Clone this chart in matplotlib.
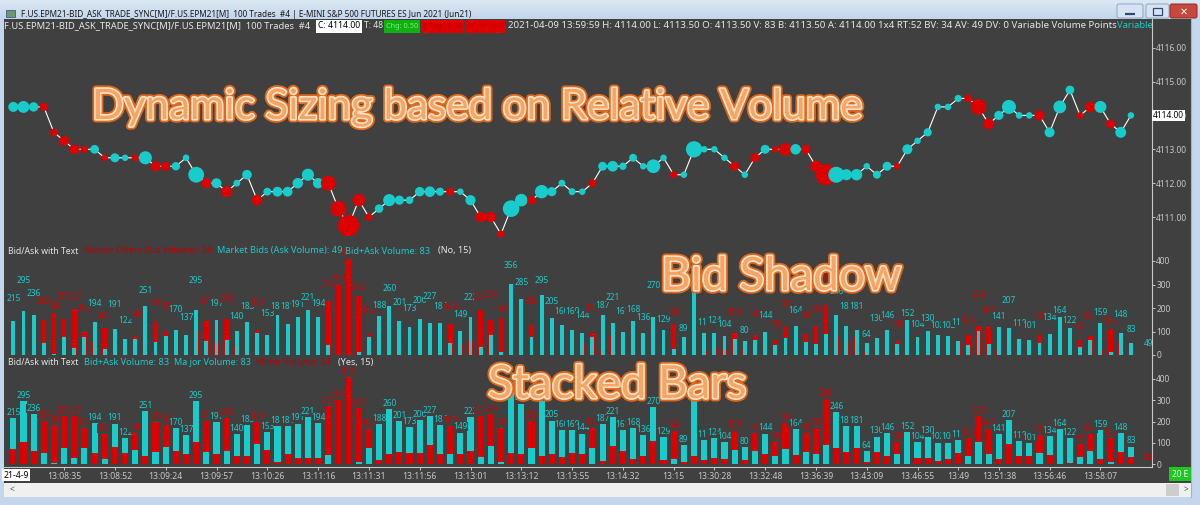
import numpy as np
import pandas as pd
import matplotlib
matplotlib.use("Agg")
import matplotlib.pyplot as plt
import matplotlib.patheffects as pe
from matplotlib.patches import Rectangle, FancyBboxPatch
from matplotlib.transforms import blended_transform_factory

W, H, DPI = 1200, 505, 100

# ---- data -------------------------------------------------------------
price = [
    4114.25, 4114.25, 4114.25, 4114.25, 4113.50, 4113.25, 4113.00, 4113.00, 4113.00, 4112.75,
    4112.75, 4112.75, 4112.75, 4112.75, 4112.50, 4112.50, 4112.50, 4112.75, 4112.25, 4112.00,
    4112.00, 4111.75, 4112.00, 4112.25, 4111.50, 4111.75, 4111.75, 4111.75, 4112.00, 4112.25,
    4112.00, 4112.00, 4111.25, 4110.75, 4111.50, 4111.00, 4111.25, 4111.50, 4111.50, 4111.50,
    4111.75, 4111.75, 4111.75, 4111.75, 4111.75, 4111.50, 4111.00, 4111.00, 4110.50, 4111.25,
    4111.50, 4111.50, 4111.75, 4111.75, 4112.00, 4111.75, 4111.75, 4112.00, 4112.50, 4112.50,
    4112.50, 4112.75, 4112.50, 4112.50, 4112.75, 4112.25, 4112.25, 4113.00, 4113.00, 4113.00,
    4112.75, 4112.50, 4112.25, 4112.75, 4113.00, 4113.00, 4113.00, 4113.00, 4113.00, 4112.50,
    4112.25, 4112.25, 4112.25, 4112.25, 4112.50, 4112.25, 4112.50, 4112.50, 4113.00, 4113.25,
    4113.50, 4114.25, 4114.25, 4114.50, 4114.50, 4114.25, 4113.75, 4114.00, 4114.25, 4114.00,
    4114.00, 4114.00, 4113.50, 4114.25, 4114.75, 4114.00, 4114.25, 4114.25, 4113.75, 4113.50,
    4114.00,
]

bid_volume = [
    72, 106, 64, 151, 179, 152, 196, 97, 55, 116,
    81, 52, 82, 41, 141, 103, 62, 50, 103, 144,
    50, 154, 39, 41, 106, 66, 11, 47, 28, 28,
    31, 231, 300, 409, 251, 88, 22, 50, 58, 53,
    53, 89, 48, 130, 47, 61, 193, 148, 158, 52,
    47, 128, 41, 47, 33, 52, 50, 94, 16, 86,
    62, 25, 41, 108, 22, 131, 12, 39, 19, 31,
    23, 92, 20, 83, 47, 65, 120, 42, 89, 122,
    214, 75, 56, 75, 12, 59, 41, 59, 3, 28,
    28, 16, 23, 55, 84, 125, 118, 23, 94, 41,
    39, 86, 44, 3, 5, 62, 79, 23, 110, 56,
    34,
]

ask_volume = [
    143, 189, 172, 52, 5, 75, 31, 75, 139, 25,
    110, 70, 66, 210, 56, 80, 108, 87, 192, 59,
    147, 62, 101, 142, 94, 87, 170, 134, 163, 193,
    163, 44, 2, 2, 11, 78, 166, 210, 143, 120,
    153, 138, 136, 50, 102, 161, 34, 86, 11, 304,
    238, 75, 254, 158, 127, 108, 94, 78, 171, 135,
    99, 143, 95, 162, 107, 25, 77, 263, 94, 93,
    81, 66, 60, 64, 97, 41, 72, 122, 56, 47,
    91, 171, 125, 106, 52, 71, 105, 47, 149, 76,
    102, 86, 79, 59, 41, 103, 48, 118, 113, 69,
    62, 52, 90, 161, 117, 33, 62, 136, 12, 92,
    49,
]

time_tick_bars = [5, 10, 15, 20, 25, 30, 35, 40, 45, 50, 55, 60, 65, 69, 74, 79,
                  84, 89, 93, 97, 102, 107]
time_tick_labels = ["13:08:35", "13:08:52", "13:09:24", "13:09:57", "13:10:26",
                    "13:11:16", "13:11:31", "13:11:56", "13:13:01", "13:13:12",
                    "13:13:55", "13:14:32", "13:15", "13:30:28", "13:32:48",
                    "13:36:39", "13:43:09", "13:46:55", "13:49", "13:51:38",
                    "13:56:46", "13:58:07"]
date_label = "21-4-9"
price_ticks = [4111, 4112, 4113, 4114, 4115, 4116]
volume_ticks = [0, 100, 200, 300, 400]
last_price = 4114.00

# ---- style ------------------------------------------------------------
BG = "#404040"
CYAN = "#19CCCC"
RED = "#DD0000"
AXIS = "#C8C8C8"
FRAME = "#C3D6EC"
TXT = "#E6E6E6"
UIFONT = ["Noto Sans", "DejaVu Sans"]

bid = np.array(bid_volume)
ask = np.array(ask_volume)
total = bid + ask
ask_major = ask >= bid
major_col = np.where(ask_major, CYAN, RED)
minor_col = np.where(ask_major, RED, CYAN)
minor = np.minimum(bid, ask)
idx = np.arange(len(price))

# bar pitch in pixels and first bar centre
X0, DX = 13.3, 10.16

fig = plt.figure(figsize=(W / DPI, H / DPI), dpi=DPI)
fig.patch.set_facecolor(FRAME)
renderer = fig.canvas.get_renderer()


def px_box(x0, y0, x1, y1):
    return [x0 / W, 1 - y1 / H, (x1 - x0) / W, (y1 - y0) / H]


def fit_text(ax, x, y, s, width, **kw):
    t = ax.text(x, y, s, fontsize=10, **kw)
    bb = t.get_window_extent(renderer)
    t.set_fontsize(10 * width / bb.width)
    return t


# background layer -------------------------------------------------------
bg = fig.add_axes([0, 0, 1, 1])
bg.set_xlim(0, W)
bg.set_ylim(H, 0)
bg.axis("off")
bg.set_zorder(0)
bg.add_patch(Rectangle((4, 19), 1187, 464, fc=BG, ec="none"))

# chart panels -----------------------------------------------------------
xlim = ((4 - X0) / DX, (1152 - X0) / DX)


def style_panel(ax):
    ax.set_facecolor(BG)
    ax.set_xlim(*xlim)
    for side in ("top", "left", "bottom"):
        ax.spines[side].set_visible(False)
    ax.spines["right"].set_color(AXIS)
    ax.spines["right"].set_linewidth(0.8)
    ax.yaxis.tick_right()
    ax.tick_params(axis="y", colors=AXIS, labelcolor=AXIS, labelsize=6,
                   length=2.5, width=0.7, pad=0.5)
    ax.set_xticks([])
    for lab in ax.get_yticklabels():
        lab.set_fontfamily(UIFONT)


# price panel
axp = fig.add_axes(px_box(4, 33, 1152, 243))
axp.set_zorder(1)
style_panel(axp)
p_scale = 33.9
axp.set_ylim(4115 - (243 - 81.5) / p_scale, 4115 + (81.5 - 33) / p_scale)
axp.set_yticks(price_ticks)
axp.set_yticklabels([f"{v:.2f}" for v in price_ticks], fontfamily=UIFONT)
axp.plot(idx, price, color="white", lw=0.8, zorder=2)
rel = pd.Series(total).rolling(20, min_periods=1).mean().to_numpy()
rel = total / rel
diam = np.maximum(6.5, 12 * rel - 2)
axp.scatter(idx, price, s=(diam * 72 / DPI) ** 2, c=major_col, edgecolors="none", zorder=3)
tr = blended_transform_factory(axp.transAxes, axp.transData)
axp.text(1.001, last_price, f"{last_price:.2f}", transform=tr, ha="left", va="center",
         fontsize=6, color="black", fontfamily=UIFONT, zorder=5,
         bbox=dict(boxstyle="square,pad=0.15", fc="white", ec="none"))


def bar_labels(ax):
    for i in idx:
        ax.annotate(str(total[i]), (i, total[i]), xytext=(0, 0.8), textcoords="offset points",
                    ha="center", va="bottom", fontsize=6, color=major_col[i],
                    fontfamily=UIFONT, zorder=4,
                    bbox=dict(boxstyle="square,pad=0.0", fc=BG, ec="none"))


# bid shadow panel
axs = fig.add_axes(px_box(4, 243, 1152, 357))
axs.set_zorder(1)
style_panel(axs)
s_scale = 0.235
axs.set_ylim((355 - 357) / s_scale, (355 - 243) / s_scale)
axs.set_yticks(volume_ticks)
axs.bar(idx, bid, width=0.46, color=RED, zorder=2)
axs.bar(idx, ask, width=0.38, color=CYAN, zorder=3)
bar_labels(axs)
axs.text(111.3, ask[-1], str(ask[-1]), ha="left", va="center", fontsize=6,
         color=CYAN, fontfamily=UIFONT)

# stacked panel
axk = fig.add_axes(px_box(4, 357, 1152, 467))
axk.set_zorder(1)
style_panel(axk)
k_scale = 0.2133
axk.set_ylim((464.3 - 467) / k_scale, (464.3 - 357) / k_scale)
axk.set_yticks(volume_ticks)
axk.bar(idx, minor, width=0.6, color=minor_col, zorder=2)
axk.bar(idx, total - minor, bottom=minor, width=0.6, color=major_col, zorder=2)
bar_labels(axk)
axk.text(111.2, bid[-1], str(bid[-1]), ha="left", va="center", fontsize=6,
         color=RED, fontfamily=UIFONT)
axk.spines["bottom"].set_visible(True)
axk.spines["bottom"].set_color(AXIS)
axk.spines["bottom"].set_linewidth(0.8)
axk.set_xticks(time_tick_bars)
axk.set_xticklabels(time_tick_labels, fontfamily=UIFONT)
axk.tick_params(axis="x", colors=AXIS, labelcolor=AXIS, labelsize=6.2, length=2,
                width=0.7, pad=1.5)

# overlay layer: window chrome, headers, captions ------------------------
ov = fig.add_axes([0, 0, 1, 1])
ov.set_xlim(0, W)
ov.set_ylim(H, 0)
ov.axis("off")
ov.set_zorder(3)

# date box on the time axis
ov.text(16, 475, date_label, ha="center", va="center", fontsize=6.2, color="black",
        fontfamily=UIFONT, bbox=dict(boxstyle="square,pad=0.2", fc="white", ec="none"))
# bars-back box bottom right
ov.add_patch(Rectangle((1169, 467), 22, 14, fc="#1EC81E", ec="none"))
ov.text(1180, 474.5, "20 E", ha="center", va="center", fontsize=6, color="white",
        fontfamily=UIFONT)

# title bar gradient
grad = np.linspace(0, 1, 20)[:, None]
ov.imshow(grad, extent=(0, W, 19, 0), aspect="auto", zorder=0,
          cmap=matplotlib.colors.LinearSegmentedColormap.from_list("tb", ["#DCE7F4", "#C3D6EC"]))
ov.set_xlim(0, W)
ov.set_ylim(H, 0)
# frame borders
ov.add_patch(Rectangle((0, 19), 4, H - 19, fc=FRAME, ec="none"))
ov.add_patch(Rectangle((1191, 19), 9, H - 19, fc=FRAME, ec="none", zorder=2))
ov.add_patch(Rectangle((0, 497), W, 8, fc=FRAME, ec="none"))
ov.plot([1191, 1191], [19, 497], color="#9DB3CE", lw=0.8, zorder=2.1)
# scrollbar
ov.add_patch(Rectangle((4, 483), 1187, 14, fc="#F0F0F0", ec="none"))
ov.add_patch(Rectangle((1166, 484), 13, 12, fc="#CDCDCD", ec="none"))
ov.text(12, 490, "<", ha="center", va="center", fontsize=6, color="#505050", fontfamily=UIFONT)
ov.text(1186, 490, ">", ha="center", va="center", fontsize=6, color="#505050",
        fontfamily=UIFONT, zorder=3)

# window icon and caption
ov.add_patch(Rectangle((6, 10), 9, 7, fc="#6A9A6A", ec="#3C5C8C", lw=0.6))
fit_text(ov, 21, 14.5, "F.US.EPM21-BID_ASK_TRADE_SYNC[M]/F.US.EPM21[M]  100 Trades  #4 | "
         "E-MINI S&P 500 FUTURES ES Jun 2021 (Jun21)", 454, va="center", ha="left",
         color="#1A1A1A", fontfamily=UIFONT)
# window buttons
for x0, x1, fc, ec in [(1117, 1143, "#D6E3F2", "#8FA6C4"), (1146, 1169, "#D6E3F2", "#8FA6C4"),
                       (1170, 1197, "#C9483E", "#8B2A23")]:
    ov.add_patch(FancyBboxPatch((x0, 4), x1 - x0, 14, boxstyle="round,pad=0,rounding_size=2",
                                fc=fc, ec=ec, lw=0.7))
ov.plot([1125, 1135], [13.5, 13.5], color="#2B4A74", lw=1.6, solid_capstyle="butt")
ov.add_patch(Rectangle((1153, 7.5), 9, 7, fc="none", ec="#2B4A74", lw=0.9))
ov.text(1183.5, 11.5, "\u2715", ha="center", va="center", fontsize=7, color="white",
        fontweight="bold", fontfamily=["DejaVu Sans"])

# chart header row
head = fit_text(ov, 4, 26, "F.US.EPM21-BID_ASK_TRADE_SYNC[M]/F.US.EPM21[M]  100 Trades  #4", 307,
                va="center", ha="left", color=TXT, fontfamily=UIFONT)
ov.add_patch(Rectangle((316, 19.5), 46, 13, fc="white", ec="none"))
fit_text(ov, 318, 26, "C: 4114.00", 42, va="center", ha="left", color="black", fontfamily=UIFONT)
fit_text(ov, 364, 26, "T: 48", 19, va="center", ha="left", color=TXT, fontfamily=UIFONT)
ov.add_patch(Rectangle((384, 19.5), 36, 13, fc="#10B010", ec="none"))
fit_text(ov, 386, 26, "Chg: 0.50", 32, va="center", ha="left", color="#7CF07C", fontfamily=UIFONT)
ov.add_patch(Rectangle((421, 19.5), 43, 13, fc="#E00000", ec="none"))
fit_text(ov, 423, 26, "DChg: -0.50", 39, va="center", ha="left", color="#B00000", fontfamily=UIFONT)
ov.add_patch(Rectangle((465, 19.5), 40, 13, fc="#E00000", ec="none"))
fit_text(ov, 467, 26, "DChg%: -0.12", 36, va="center", ha="left", color="#B00000", fontfamily=UIFONT)
fit_text(ov, 508, 26, "2021-04-09 13:59:59 H: 4114.00 L: 4113.50 O: 4113.50 V: 83 B: 4113.50 "
         "A: 4114.00 1x4 RT:52 BV: 34 AV: 49 DV: 0 Variable Volume Points", 603,
         va="center", ha="left", color=TXT, fontfamily=UIFONT)
# the study name runs into the scale and is hidden behind it
ov.text(1117, 26, "Variable", va="center", ha="left", color=CYAN,
        fontsize=head.get_fontsize(), fontfamily=UIFONT, zorder=1)
ov.add_patch(Rectangle((1152, 19), 39, 14, fc=BG, ec="none", zorder=1.5))
ov.plot([1152, 1152], [19, 33], color=AXIS, lw=0.8, zorder=1.6)

# study headers
def header_row(y, parts):
    for x, s, w, c in parts:
        fit_text(ov, x, y, s, w, va="center", ha="left", color=c, fontfamily=UIFONT)


header_row(251, [(8, "Bid/Ask with Text", 70, TXT),
                 (84, "Market Offers (Bid Volume): 34", 128, "#C00000"),
                 (217, "Market Bids (Ask Volume): 49", 125, CYAN),
                 (345, "Bid+Ask Volume: 83", 85, CYAN),
                 (438, "(No, 15)", 33, TXT)])
header_row(362.5, [(8, "Bid/Ask with Text", 70, TXT),
                   (84, "Bid+Ask Volume: 83", 85, CYAN),
                   (174, "Ma jor Volume: 83", 77, CYAN),
                   (256, "Minor Volume: 34", 74, "#C00000"),
                   (338, "(Yes, 15)", 35, TXT)])

# captions
cap_fx = [pe.Stroke(linewidth=5, foreground="#E0681C"),
          pe.Stroke(linewidth=2.4, foreground="#FFE3C8"),
          pe.Normal()]
for x, y, s, w in [(92, 119, "Dynamic Sizing based on Relative Volume", 770),
                   (661, 290, "Bid Shadow", 241),
                   (488, 398, "Stacked Bars", 259)]:
    t = fit_text(ov, x, y, s, w, ha="left", va="baseline", color="#F6A565",
                 fontfamily=["Lato", "DejaVu Sans"], zorder=6)
    t.set_path_effects(cap_fx)

fig.savefig("out.png", dpi=DPI, facecolor=fig.get_facecolor())
